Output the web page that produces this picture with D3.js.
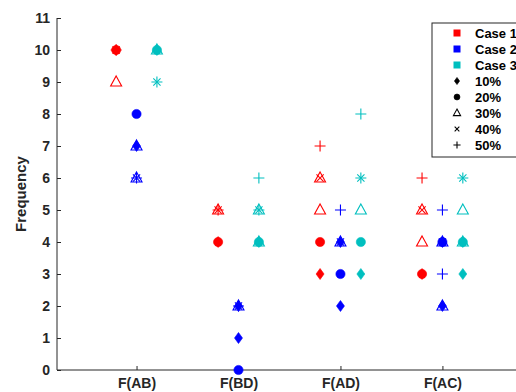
<!DOCTYPE html>
<html>
<head>
<meta charset="utf-8">
<script src="https://cdn.jsdelivr.net/npm/d3@7"></script>
<style>
  body { margin: 0; background: #fff; }
  text { font-family: "Liberation Sans", Arial, sans-serif; font-weight: bold; }
</style>
</head>
<body>
<div id="chart"></div>
<script>
const categories = ['F(AB)', 'F(BD)', 'F(AD)', 'F(AC)'];
const levels = ['10%', '20%', '30%', '40%', '50%'];
const caseNames = ['Case 1', 'Case 2', 'Case 3'];
const yTicks = [0, 1, 2, 3, 4, 5, 6, 7, 8, 9, 10, 11];

// rows: 10% .. 50%, columns: F(AB) F(BD) F(AD) F(AC)
// a cell can hold two readings where the same marker shows twice
const case1 = [
  [10, 4, 3, 3],
  [10, 4, 4, 3],
  [9, 5, [5, 6], [4, 5]],
  [10, 5, 6, 5],
  [10, 5, 7, 6]
];
const case2 = [
  [7, [1, 2], [2, 4], [2, 4]],
  [8, 0, 3, 4],
  [[6, 7], 2, 4, [2, 4]],
  [6, 2, 4, 4],
  [6, 2, 5, [3, 5]]
];
const case3 = [
  [10, 4, 3, [3, 4]],
  [10, 4, 4, 4],
  [10, [4, 5], 5, [4, 5]],
  [9, 5, 6, 6],
  [9, [5, 6], [6, 8], 6]
];

const caseColors = ['#ff0000', '#0000ff', '#00bfbf'];
const caseOffset = [-0.2, 0, 0.2];

const width = 516, height = 392;
const svg = d3.select('#chart').append('svg')
  .attr('width', width)
  .attr('height', height);

const x = d3.scaleLinear().domain([0.22, 4.8]).range([57, 524]);
const y = d3.scaleLinear().domain([0, 11]).range([370, 18]);

// marker paths, MATLAB style
const markerPath = {
  0: s => `M0,${-5.5*s}L${4*s},0L0,${5.5*s}L${-4*s},0Z`,
  1: s => d3.symbol(d3.symbolCircle, Math.PI * (4.6*s) * (4.6*s))(),
  2: s => `M0,${-6*s}L${5.5*s},${4*s}L${-5.5*s},${4*s}Z`,
  3: s => `M${-3.6*s},${-3.6*s}L${3.6*s},${3.6*s}M${3.6*s},${-3.6*s}L${-3.6*s},${3.6*s}`,
  4: s => `M${-5.5*s},0L${5.5*s},0M0,${-5.5*s}L0,${5.5*s}`
};
const filled = [true, true, false, false, false];

const styleMarker = (sel, color, m) => sel
  .attr('fill', filled[m] ? color : 'none')
  .attr('stroke', color)
  .attr('stroke-width', filled[m] ? 0.6 : 1.1);

// axes
const axisColor = '#262626';
const yAxis = d3.axisLeft(y).tickValues(yTicks).tickSize(-4).tickPadding(7);
const yAxisG = svg.append('g').attr('transform', `translate(${x(0.22)},0)`).call(yAxis);
const xAxis = d3.axisBottom(x).tickValues([1, 2, 3, 4])
  .tickFormat(d => categories[d - 1]).tickSize(-4).tickPadding(8);
const xAxisG = svg.append('g').attr('transform', `translate(0,${y(0)})`).call(xAxis);

[yAxisG, xAxisG].forEach(g => {
  g.select('.domain').attr('stroke', axisColor).attr('d', null);
  g.selectAll('.tick line').attr('stroke', axisColor);
  g.selectAll('.tick text').attr('fill', axisColor).style('font-size', '14px')
    .style('font-family', '"Liberation Sans", Arial, sans-serif').style('font-weight', 'bold');
});
yAxisG.select('.domain').remove();
xAxisG.select('.domain').remove();
svg.append('line').attr('x1', x(0.22)).attr('x2', x(0.22)).attr('y1', y(11)).attr('y2', y(0))
  .attr('stroke', axisColor).attr('stroke-width', 1);
svg.append('line').attr('x1', x(0.22)).attr('x2', width).attr('y1', y(0)).attr('y2', y(0))
  .attr('stroke', axisColor).attr('stroke-width', 1);

svg.append('text')
  .attr('transform', `translate(26,${(y(0) + y(11)) / 2}) rotate(-90)`)
  .attr('text-anchor', 'middle')
  .attr('fill', axisColor)
  .style('font-size', '15px')
  .text('Frequency');

// points
const points = [];
[case1, case2, case3].forEach((rows, ci) => {
  rows.forEach((row, li) => {
    row.forEach((cell, k) => {
      [].concat(cell).forEach(v => {
        if (v == null) return;
        points.push({ ci, li, cx: k + 1 + caseOffset[ci], v });
      });
    });
  });
});

const g = svg.append('g');
points.forEach(p => {
  g.append('path')
    .attr('d', markerPath[p.li](1))
    .attr('transform', `translate(${x(p.cx)},${y(p.v)})`)
    .call(styleMarker, caseColors[p.ci], p.li);
});

// legend
const lg = svg.append('g').attr('transform', 'translate(432,23)');
lg.append('rect').attr('width', 120).attr('height', 134)
  .attr('fill', '#fff').attr('stroke', axisColor).attr('stroke-width', 1);
const rowY = i => 10 + i * 16;
caseNames.forEach((name, i) => {
  lg.append('rect').attr('x', 21.5).attr('y', rowY(i) - 3.5).attr('width', 7).attr('height', 7)
    .attr('fill', caseColors[i]);
  lg.append('text').attr('x', 43).attr('y', rowY(i) + 4.5).attr('fill', '#000')
    .style('font-size', '13px').text(name);
});
levels.forEach((name, i) => {
  const r = i + 3;
  lg.append('path').attr('d', markerPath[i](0.65))
    .attr('transform', `translate(25,${rowY(r)})`)
    .call(styleMarker, '#000', i);
  lg.append('text').attr('x', 43).attr('y', rowY(r) + 4.5).attr('fill', '#000')
    .style('font-size', '13px').text(name);
});
</script>
</body>
</html>
